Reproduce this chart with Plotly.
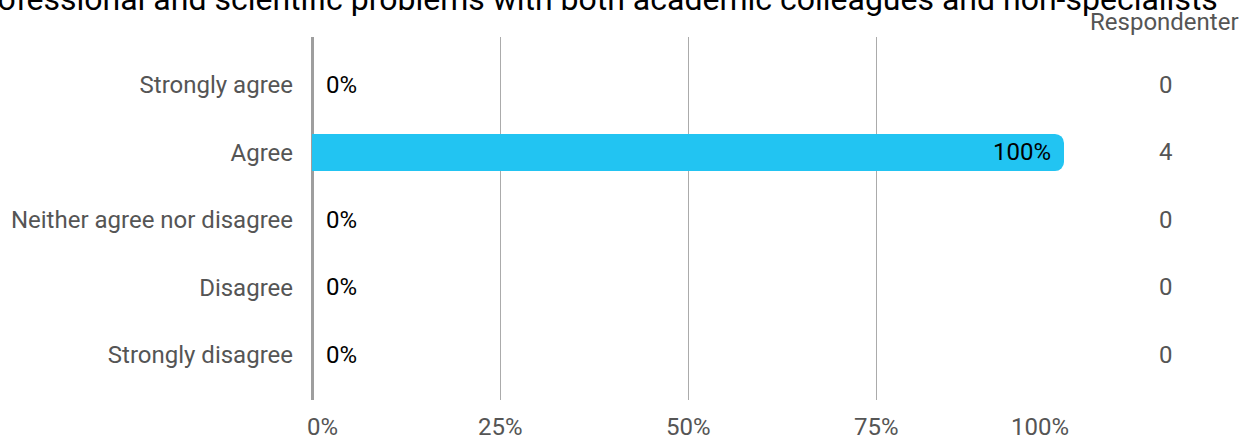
import plotly.graph_objects as go

categories = ["Strongly agree", "Agree", "Neither agree nor disagree", "Disagree", "Strongly disagree"]
percent = [0, 100, 0, 0, 0]
counts = [0, 4, 0, 0, 0]
x_ticks = [0, 25, 50, 75, 100]
x_tick_labels = ["0%", "25%", "50%", "75%", "100%"]
x_tick_shift = [10, 0, 0, 0, -24]
title_text = "professional and scientific problems with both academic colleagues and non-specialists"
count_header = "Respondenter"

FONT = "Roboto"
GREY = "#555555"
FS = 24

fig = go.Figure()
fig.add_trace(go.Bar(
    y=list(range(len(categories))), x=percent, orientation="h",
    marker=dict(color="#22C4F2", line=dict(width=0)),
    width=0.55, hoverinfo="skip", showlegend=False,
))

annotations = []
for i, (p, c) in enumerate(zip(percent, counts)):
    if p >= 50:
        annotations.append(dict(x=p, y=i, xref="x", yref="y", text=f"{p}%", showarrow=False,
                                xanchor="right", xshift=-11, font=dict(family=FONT, size=FS, color="#000")))
    else:
        annotations.append(dict(x=p, y=i, xref="x", yref="y", text=f"{p}%", showarrow=False,
                                xanchor="left", xshift=12, font=dict(family=FONT, size=FS, color="#000")))
    annotations.append(dict(x=1.1356, y=i, xref="paper", yref="y", text=str(c), showarrow=False,
                            xanchor="center", font=dict(family=FONT, size=FS, color=GREY)))

for v, t, s in zip(x_ticks, x_tick_labels, x_tick_shift):
    annotations.append(dict(x=v, y=0, xref="x", yref="paper", text=t, showarrow=False,
                            xanchor="center", yanchor="middle", yshift=-27, xshift=s,
                            font=dict(family=FONT, size=FS, color=GREY)))

annotations.append(dict(x=1.2354, y=1, xref="paper", yref="paper", text=count_header, showarrow=False,
                        xanchor="right", yanchor="middle", yshift=15,
                        font=dict(family=FONT, size=FS, color=GREY)))
annotations.append(dict(x=1.2074, y=1, xref="paper", yref="paper", text=title_text, showarrow=False,
                        xanchor="right", yanchor="bottom", yshift=17,
                        font=dict(family=FONT, size=32, color="#000")))

fig.update_layout(
    width=1258, height=439,
    margin=dict(l=312, r=194, t=37, b=39, autoexpand=False),
    paper_bgcolor="white", plot_bgcolor="white",
    barcornerradius=9,
    font=dict(family=FONT, size=FS, color=GREY),
    xaxis=dict(range=[0, 100], tickvals=x_ticks, showticklabels=False, automargin=False,
               showgrid=True, gridcolor="#ababab", gridwidth=1,
               zeroline=True, zerolinecolor="#9e9e9e", zerolinewidth=3,
               showline=False, fixedrange=True),
    yaxis=dict(range=[4.667, -0.711], tickvals=list(range(len(categories))), ticktext=categories,
               showgrid=False, zeroline=False, showline=False, ticks="", automargin=False,
               ticklabelstandoff=18, tickfont=dict(family=FONT, size=FS, color=GREY)),
    annotations=annotations,
)

fig.write_html("out.html", config={"displayModeBar": False},
               post_script="document.body.style.margin='0px';document.body.style.overflow='hidden';")
